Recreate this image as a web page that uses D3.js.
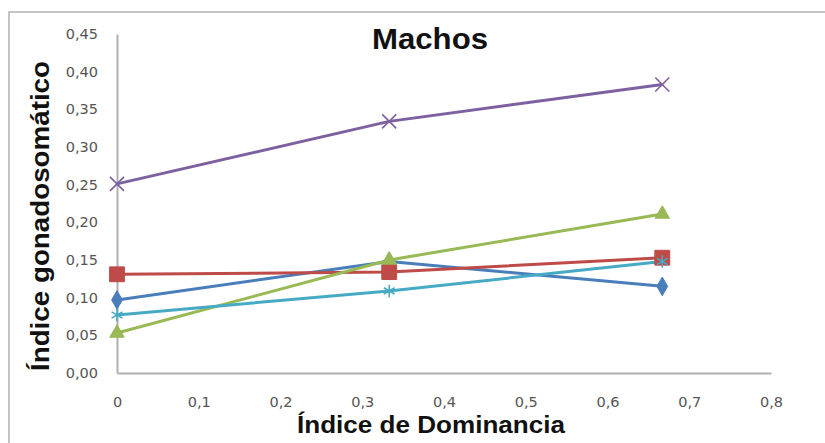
<!DOCTYPE html>
<html>
<head>
<meta charset="utf-8">
<script src="https://cdn.jsdelivr.net/npm/d3@7"></script>
<style>
  html, body { margin: 0; padding: 0; background: #fff; }
</style>
</head>
<body>
<svg id="chart"></svg>
<script>
// dominance index (x) per group
const dominancia = [0, 0.333, 0.667];
// gonadosomatic index per series
const serieAzul = [0.097, 0.148, 0.115];
const serieRoja = [0.131, 0.134, 0.153];
const serieVerde = [0.053, 0.150, 0.211];
const serieMorada = [0.251, 0.334, 0.383];
const serieCeleste = [0.077, 0.109, 0.148];
const yTicks = [0, 0.05, 0.10, 0.15, 0.20, 0.25, 0.30, 0.35, 0.40, 0.45];
const xTicks = [0, 0.1, 0.2, 0.3, 0.4, 0.5, 0.6, 0.7, 0.8];

const width = 825;
const height = 443;
const marginTop = 34;
const marginBottom = 70;
const marginLeft = 117;
const marginRight = 54;

const series = [
  {values: serieAzul, color: "#4a7ebb", symbol: d3.symbolDiamond, size: 100, fill: true},
  {values: serieRoja, color: "#be4b48", symbol: d3.symbolSquare, size: 220, fill: true},
  {values: serieVerde, color: "#98b954", symbol: d3.symbolTriangle, size: 90, fill: true},
  {values: serieMorada, color: "#7d60a0", symbol: d3.symbolTimes || d3.symbolCross, size: 130, fill: false},
  {values: serieCeleste, color: "#46aac5", symbol: d3.symbolAsterisk || d3.symbolCross, size: 110, fill: false}
];

const x = d3.scaleLinear()
  .domain([0, 0.8])
  .range([marginLeft, width - marginRight]);
const y = d3.scaleLinear()
  .domain([0, 0.45])
  .range([height - marginBottom, marginTop]);

const svg = d3.select("#chart")
  .attr("width", width)
  .attr("height", height)
  .attr("viewBox", [0, 0, width, height]);

// chart frame
svg.append("rect")
  .attr("x", 9)
  .attr("y", 12)
  .attr("width", width + 10)
  .attr("height", height + 10)
  .attr("fill", "#fff")
  .attr("stroke", "#c4c4c4")
  .attr("stroke-width", 2);

const fmt = v => d3.format(".2f")(v).replace(".", ",");
const fmtX = v => v === 0 ? "0" : d3.format(".1f")(v).replace(".", ",");

svg.append("g")
  .attr("transform", `translate(${marginLeft},0)`)
  .call(d3.axisLeft(y).tickValues(yTicks).tickFormat(fmt).tickSize(0).tickPadding(19))
  .call(g => g.select(".domain").attr("stroke", "#b0b0b0").attr("stroke-width", 2))
  .call(g => g.selectAll("text")
    .attr("font-family", "DejaVu Sans, Verdana, sans-serif")
    .attr("font-size", 14.5)
    .attr("fill", "#555"));

svg.append("g")
  .attr("transform", `translate(0,${height - marginBottom})`)
  .call(d3.axisBottom(x).tickValues(xTicks).tickFormat(fmtX).tickSize(0).tickPadding(24))
  .call(g => g.select(".domain").attr("stroke", "#b0b0b0").attr("stroke-width", 2))
  .call(g => g.selectAll("text")
    .attr("font-family", "DejaVu Sans, Verdana, sans-serif")
    .attr("font-size", 14.5)
    .attr("fill", "#555"));

const line = d3.line()
  .x((d, i) => x(dominancia[i]))
  .y(d => y(d));

series.forEach(s => {
  svg.append("path")
    .attr("fill", "none")
    .attr("stroke", s.color)
    .attr("stroke-width", 3)
    .attr("stroke-linejoin", "round")
    .attr("d", line(s.values));
});

series.forEach(s => {
  svg.append("g")
    .selectAll("path")
    .data(s.values)
    .join("path")
    .attr("transform", (d, i) => `translate(${x(dominancia[i])},${y(d)})`)
    .attr("d", d3.symbol(s.symbol, s.size))
    .attr("fill", s.fill ? s.color : "none")
    .attr("stroke", s.color)
    .attr("stroke-width", s.fill ? 1 : 1.6);
});

// titles
svg.append("text")
  .attr("x", 430)
  .attr("y", 49)
  .attr("text-anchor", "middle")
  .attr("font-family", "Liberation Sans, Arial, sans-serif")
  .attr("font-weight", "bold")
  .attr("font-size", 29)
  .attr("textLength", 116)
  .attr("lengthAdjust", "spacingAndGlyphs")
  .attr("fill", "#111")
  .text("Machos");

svg.append("text")
  .attr("x", 431)
  .attr("y", 433)
  .attr("text-anchor", "middle")
  .attr("font-family", "Liberation Sans, Arial, sans-serif")
  .attr("font-weight", "bold")
  .attr("font-size", 24)
  .attr("textLength", 268)
  .attr("lengthAdjust", "spacingAndGlyphs")
  .attr("fill", "#111")
  .text("Índice de Dominancia");

svg.append("text")
  .attr("transform", "translate(49,216) rotate(-90)")
  .attr("text-anchor", "middle")
  .attr("font-family", "Liberation Sans, Arial, sans-serif")
  .attr("font-weight", "bold")
  .attr("font-size", 26)
  .attr("textLength", 310)
  .attr("lengthAdjust", "spacingAndGlyphs")
  .attr("fill", "#111")
  .text("Índice gonadosomático");
</script>
</body>
</html>
